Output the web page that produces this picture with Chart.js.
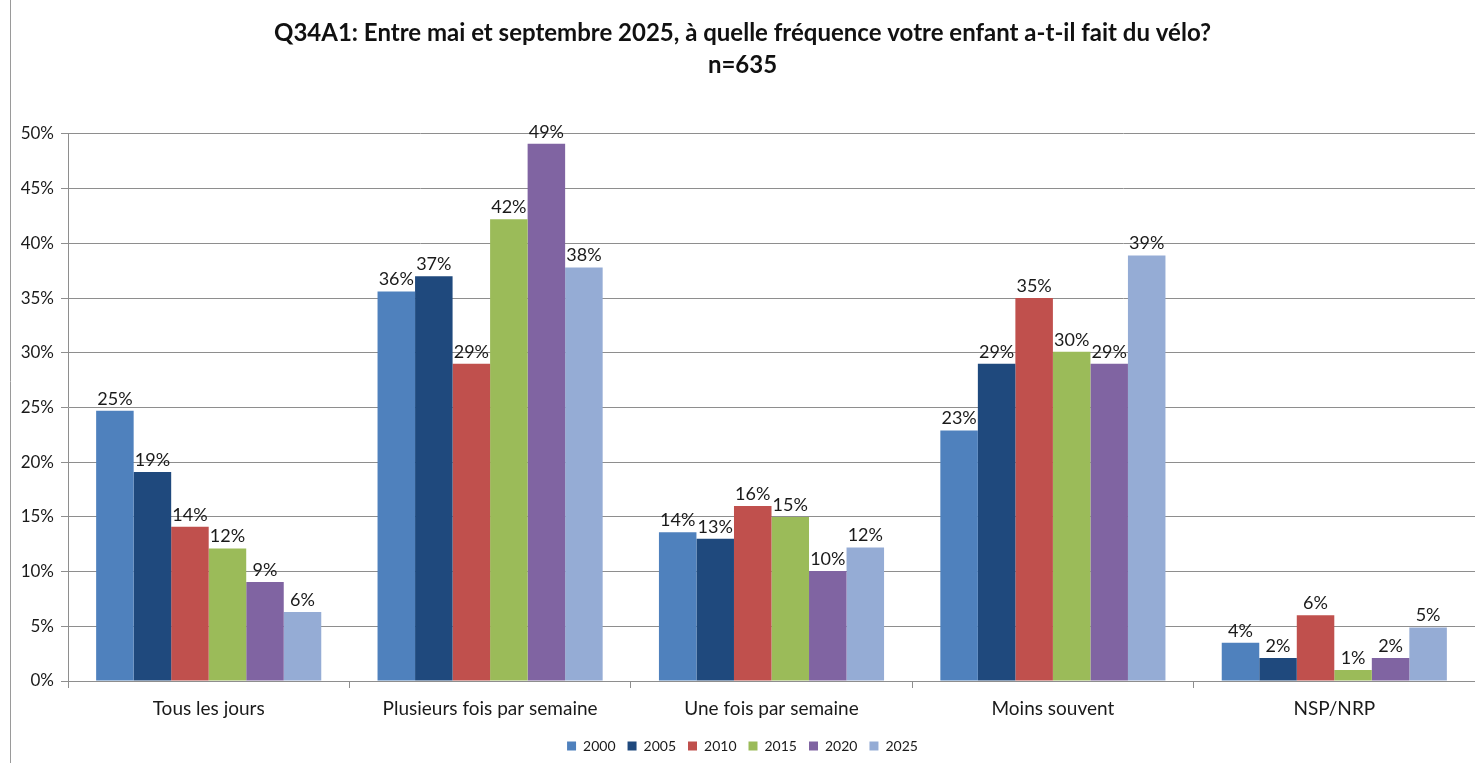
<!DOCTYPE html>
<html lang="fr">
<head>
<meta charset="utf-8">
<title>Q34A1 - fréquence vélo</title>
<script src="https://cdn.jsdelivr.net/npm/chart.js@4.4.1/dist/chart.umd.min.js"></script>
<style>
    html, body { margin: 0; padding: 0; background: #fff; }
    #wrap { width: 1475px; height: 763px; position: relative; }
</style>
</head>
<body>
<div id="wrap"><canvas id="chart"></canvas></div>
<script>
// --- Data ---
const categories = ['Tous les jours', 'Plusieurs fois par semaine', 'Une fois par semaine', 'Moins souvent', 'NSP/NRP'];
const years = ['2000', '2005', '2010', '2015', '2020', '2025'];

const values2000 = [24.7, 35.6, 13.6, 22.9, 3.5];
const values2005 = [19.1, 37.0, 13.0, 29.0, 2.1];
const values2010 = [14.1, 29.0, 16.0, 35.0, 6.0];
const values2015 = [12.1, 42.2, 15.0, 30.1, 1.0];
const values2020 = [9.05, 49.1, 10.05, 29.0, 2.1];
const values2025 = [6.3, 37.8, 12.2, 38.9, 4.9];

const yTicks = [0, 5, 10, 15, 20, 25, 30, 35, 40, 45, 50];

const titleLines = ['Q34A1: Entre mai et septembre 2025, à quelle fréquence votre enfant a-t-il fait du vélo?', 'n=635'];

const seriesColors = ['#4f81bd', '#1f497d', '#c0504d', '#9bbb59', '#8064a2', '#95acd5'];
const allValues = [values2000, values2005, values2010, values2015, values2020, values2025];

const FONT = 'Lato, Calibri, "Open Sans", sans-serif';
const GRID = '#8e8e8e';

// --- Plugins ---
// value labels above each bar
const barLabels = {
    id: 'barLabels',
    afterDatasetsDraw(chart) {
        const ctx = chart.ctx;
        ctx.save();
        ctx.font = '18px ' + FONT;
        ctx.fillStyle = '#1a1a1a';
        ctx.textAlign = 'center';
        ctx.textBaseline = 'bottom';
        chart.data.datasets.forEach((ds, i) => {
            const meta = chart.getDatasetMeta(i);
            meta.data.forEach((bar, j) => {
                ctx.fillText(Math.round(ds.data[j]) + '%', bar.x, bar.y - 3);
            });
        });
        ctx.restore();
    }
};

// thin frame line on the left like the exported chart
const leftFrame = {
    id: 'leftFrame',
    beforeDraw(chart) {
        const ctx = chart.ctx;
        ctx.save();
        ctx.strokeStyle = '#9a9a9a';
        ctx.lineWidth = 1;
        ctx.beginPath();
        ctx.moveTo(10.5, 0);
        ctx.lineTo(10.5, chart.height);
        ctx.stroke();
        ctx.restore();
    }
};

// --- Chart ---
const datasets = years.map((year, i) => ({
    label: year,
    data: allValues[i],
    backgroundColor: seriesColors[i],
    borderWidth: 0,
    categoryPercentage: 0.8,
    barPercentage: 1.0
}));

new Chart(document.getElementById('chart'), {
    type: 'bar',
    data: { labels: categories, datasets },
    plugins: [barLabels, leftFrame],
    options: {
        responsive: true,
        maintainAspectRatio: false,
        animation: false,
        layout: { padding: { left: 10, right: 0, top: 0, bottom: 0 } },
        scales: {
            x: {
                afterFit: axis => { axis.height = 46; },
                grid: { display: true, drawOnChartArea: false, drawTicks: true, tickLength: 7, color: GRID, offset: true },
                border: { color: GRID },
                ticks: { color: '#1a1a1a', font: { family: FONT, size: 19 }, padding: 9 }
            },
            y: {
                min: 0,
                max: 50,
                afterBuildTicks: axis => { axis.ticks = yTicks.map(v => ({ value: v })); },
                afterFit: axis => { axis.width = 58; },
                grid: { color: GRID, tickLength: 7 },
                border: { color: GRID },
                ticks: { color: '#1a1a1a', font: { family: FONT, size: 17 }, padding: 7, callback: v => v + '%' }
            }
        },
        plugins: {
            title: {
                display: true,
                text: titleLines,
                color: '#111',
                font: { family: FONT, size: 24, weight: 'bold', lineHeight: 1.333 },
                padding: { top: 17, bottom: 53 }
            },
            legend: {
                position: 'bottom',
                labels: {
                    color: '#1a1a1a',
                    font: { family: FONT, size: 14 },
                    boxWidth: 9,
                    boxHeight: 9,
                    padding: 12
                }
            },
            tooltip: { enabled: false }
        }
    }
});
</script>
</body>
</html>
